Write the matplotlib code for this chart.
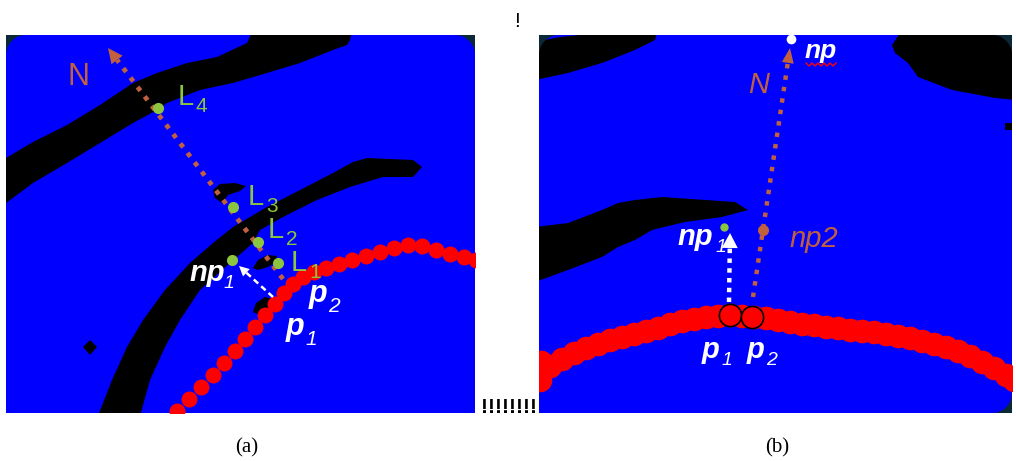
import numpy as np
import matplotlib.pyplot as plt
from matplotlib.patches import Polygon, Rectangle

plt.rcParams['font.family'] = ['Liberation Sans', 'DejaVu Sans']

W, H = 1016, 461

BLUE = '#0000ff'
DARK = '#0b2836'
RED = '#ff0000'
ORANGE = '#c0603f'
GREEN = '#8cc63f'

# panel frames, pixels: x0, y0, x1, y1
frame_a = (6, 35, 475, 413)
frame_b = (539, 35, 1012, 413)

# ---------------- panel (a) ----------------
black_a_top = [(6, 158), (33, 142), (67, 125), (100, 105), (133, 83), (157, 73), (187, 63),
               (217, 57), (247, 43), (253, 30), (352, 30), (350, 40), (347, 45), (333, 50),
               (300, 63), (267, 73), (233, 83), (200, 90), (167, 103), (157, 110), (133, 123),
               (100, 143), (67, 163), (33, 183), (6, 203)]
black_a_mid = [(98, 416), (112, 380), (127, 347), (143, 320), (165, 290), (190, 263), (213, 243),
               (233, 227), (267, 207), (300, 190), (333, 173), (353, 162), (367, 158), (413, 160),
               (422, 167), (413, 177), (383, 177), (350, 187), (317, 200), (283, 217), (260, 230),
               (253, 243), (230, 263), (200, 290), (180, 320), (165, 347), (150, 380), (140, 416)]
black_a_blobs = [
    [(213, 190), (220, 184), (235, 183), (246, 186), (240, 191), (228, 195), (222, 203), (215, 198)],
    [(253, 268), (258, 260), (268, 255), (277, 256), (276, 262), (268, 267), (258, 270)],
    [(253, 312), (256, 303), (265, 297), (273, 299), (270, 306), (260, 315)],
    [(83, 347), (90, 340), (97, 347), (90, 355)],
]
red_a_x = [177, 189, 201, 213, 224, 235, 245, 255, 265, 275, 284, 293, 303, 314, 326,
           339, 352, 366, 380, 394, 408, 422, 436, 450, 464, 476]
red_a_y = [411, 399, 387, 375, 363, 351, 339, 327, 315, 304, 293, 284, 277, 272, 268,
           264, 260, 256, 252, 248, 245, 246, 250, 254, 257, 260]
normal_a = [(283, 279), (108, 48)]      # tail, tip
move_a = [(273, 297), (239, 266)]
green_a_x = [158, 233, 258, 278, 232]
green_a_y = [108, 207, 242, 263, 260]
L_names = ['4', '3', '2', '1']
L_pos = [(178, 105), (248, 205), (268, 238), (291, 271)]

# ---------------- panel (b) ----------------
black_b_shapes = [
    [(535, 42), (560, 37), (600, 33), (657, 33), (655, 40), (635, 50), (602, 63), (568, 73), (535, 80)],
    [(892, 45), (902, 30), (1016, 30), (1016, 100), (995, 98), (952, 90), (918, 77), (908, 63), (895, 53)],
    [(1005, 123), (1016, 123), (1016, 130), (1005, 130)],
    [(535, 227), (568, 223), (602, 210), (618, 203), (635, 200), (662, 197), (735, 202), (748, 210),
     (722, 217), (685, 222), (652, 230), (635, 240), (618, 247), (602, 257), (568, 270), (535, 282)],
]
red_b_x = [540, 541, 550, 562, 574, 586, 598, 610, 622, 634, 646, 658, 670, 682, 694, 706, 718,
           730, 742, 754, 766, 778, 790, 802, 814, 826, 838, 850, 862, 874, 886, 898, 910,
           922, 934, 946, 958, 970, 982, 994, 1006, 1014]
red_b_y = [380, 362, 366, 359, 353, 348, 344, 340, 337, 334, 331, 328, 324, 321, 319, 317, 316,
           315, 316, 317, 318, 320, 322, 324, 325, 327, 328, 330, 331, 332, 334, 336, 338,
           341, 344, 347, 351, 356, 362, 368, 375, 380]
p_b_x = [730, 752]
p_b_y = [315, 317]
normal_b = [(753, 297), (790, 48)]
move_b = [(729, 302), (730, 233)]
np_top = (791, 39)
np2_pt = (763, 230)
np1_b = (724, 227)
squiggle_x = [806, 809, 812, 815, 818, 821, 824, 827, 830, 833, 836]
squiggle_y = [63, 66, 63, 66, 63, 66, 63, 66, 63, 66, 63]


def arrow(ax, tail, tip, color, lw, ls, head_len, head_w, clip):
    (x0, y0), (x1, y1) = tail, tip
    d = np.hypot(x1 - x0, y1 - y0)
    ux, uy = (x1 - x0) / d, (y1 - y0) / d
    bx, by = x1 - ux * head_len, y1 - uy * head_len
    ln, = ax.plot([x0, bx], [y0, by], color=color, lw=lw, linestyle=ls,
                  dash_capstyle='butt', solid_capstyle='butt')
    ln.set_clip_path(clip)
    head = Polygon([(x1, y1), (bx - uy * head_w / 2, by + ux * head_w / 2),
                    (bx + uy * head_w / 2, by - ux * head_w / 2)],
                   closed=True, facecolor=color, edgecolor='none')
    ax.add_patch(head)
    head.set_clip_path(clip)


def corner(px, py, sx, sy, r=20):
    cx, cy = px + sx * r, py + sy * r
    a = np.linspace(0, np.pi / 2, 20)
    pts = [(px, py)] + list(zip(cx - sx * r * np.cos(a), cy - sy * r * np.sin(a)))
    return Polygon(pts, closed=True, facecolor=DARK, edgecolor='none', zorder=20)


fig = plt.figure(figsize=(W / 100, H / 100), dpi=100)
ax = fig.add_axes([0, 0, 1, 1])
ax.set_xlim(0, W)
ax.set_ylim(H, 0)
ax.axis('off')

clips = []
for (x0, y0, x1, y1) in (frame_a, frame_b):
    ax.add_patch(Rectangle((x0, y0), x1 - x0, y1 - y0, facecolor=BLUE, edgecolor='none'))
    clips.append(Rectangle((x0, y0), x1 - x0, y1 - y0, transform=ax.transData))
clip_a, clip_b = clips

# ---- (a) drawing ----
for shape in [black_a_top, black_a_mid] + black_a_blobs:
    p = Polygon(shape, closed=True, facecolor='black', edgecolor='none')
    ax.add_patch(p)
    p.set_clip_path(clip_a)
ln, = ax.plot(red_a_x, red_a_y, 'o', ms=11.5, color=RED, mec='none')
ln.set_clip_path(clip_a)
arrow(ax, normal_a[0], normal_a[1], ORANGE, 3.4, (0, (1, 1.5)), 15, 14, clip_a)
arrow(ax, move_a[0], move_a[1], 'white', 1.8, (0, (2.4, 1.6)), 10, 10, clip_a)
ax.plot(green_a_x, green_a_y, 'o', ms=8, color=GREEN, mec='none')

ax.text(68, 85, 'N', color=ORANGE, fontsize=22, ha='left', va='baseline')
for name, (lx, ly) in zip(L_names, L_pos):
    ax.text(lx, ly, 'L', color=GREEN, fontsize=21, ha='left', va='baseline')
    ax.text(lx + 18, ly + 7, name, color=GREEN, fontsize=15, ha='left', va='baseline')

bi = dict(color='white', fontweight='bold', fontstyle='italic', ha='left', va='baseline')
si = dict(color='white', fontstyle='italic', ha='left', va='baseline')
ax.text(189, 281, 'np', fontsize=21, **bi)
ax.text(223, 288, '1', fontsize=14, **si)
ax.text(309, 302, 'p', fontsize=22, **bi)
ax.text(328, 312, '2', fontsize=15, **si)
ax.text(286, 335, 'p', fontsize=22, **bi)
ax.text(305, 345, '1', fontsize=15, **si)

# ---- (b) drawing ----
for shape in black_b_shapes:
    p = Polygon(shape, closed=True, facecolor='black', edgecolor='none')
    ax.add_patch(p)
    p.set_clip_path(clip_b)
ln, = ax.plot(red_b_x, red_b_y, 'o', ms=17, color=RED, mec='none')
ln.set_clip_path(clip_b)
ax.plot(p_b_x, p_b_y, 'o', ms=16, color=RED, mec='black', mew=1.2)
arrow(ax, normal_b[0], normal_b[1], ORANGE, 3.2, (0, (1, 1.6)), 15, 12, clip_b)
arrow(ax, move_b[0], move_b[1], 'white', 3.2, (0, (1, 1.2)), 15, 16, clip_b)
ax.plot(*np_top, 'o', ms=7, color='white', mec='none')
ax.plot(*np2_pt, 'o', ms=8, color=ORANGE, mec='none')
ax.plot(*np1_b, 'o', ms=6, color=GREEN, mec='none')
ax.plot(squiggle_x, squiggle_y, color=RED, lw=1)

ax.text(748, 93, 'N', color=ORANGE, fontsize=21, fontstyle='italic', ha='left', va='baseline')
ax.text(805, 58, 'np', fontsize=19, **bi)
ax.text(677, 245, 'np', fontsize=21, **bi)
ax.text(716, 252, '1', fontsize=14, **si)
ax.text(790, 247, 'np2', color=ORANGE, fontsize=21, fontstyle='italic', ha='left', va='baseline')
ax.text(702, 358, 'p', fontsize=21, **bi)
ax.text(721, 365, '1', fontsize=14, **si)
ax.text(747, 358, 'p', fontsize=21, **bi)
ax.text(766, 365, '2', fontsize=14, **si)

# rounded frame corners
x0, y0, x1, y1 = frame_a
ax.add_patch(corner(x0, y0, 1, 1))
ax.add_patch(corner(x1, y0, -1, 1))
x0, y0, x1, y1 = frame_b
ax.add_patch(corner(x0, y0, 1, 1))
ax.add_patch(corner(x1, y0, -1, 1))
ax.add_patch(corner(x1, y1, -1, -1))

# stray marks and captions
ax.text(517, 27, '!', fontsize=15, ha='center', va='baseline')
ax.text(509, 413, '!!!!!!!!', fontsize=15, fontweight='bold', ha='center', va='baseline')
ax.text(247, 448, '(a)', fontsize=15, family='Liberation Serif', ha='center', va='center')
ax.text(777, 448, '(b)', fontsize=15, family='Liberation Serif', ha='center', va='center')

fig.savefig('out.png', dpi=100)
